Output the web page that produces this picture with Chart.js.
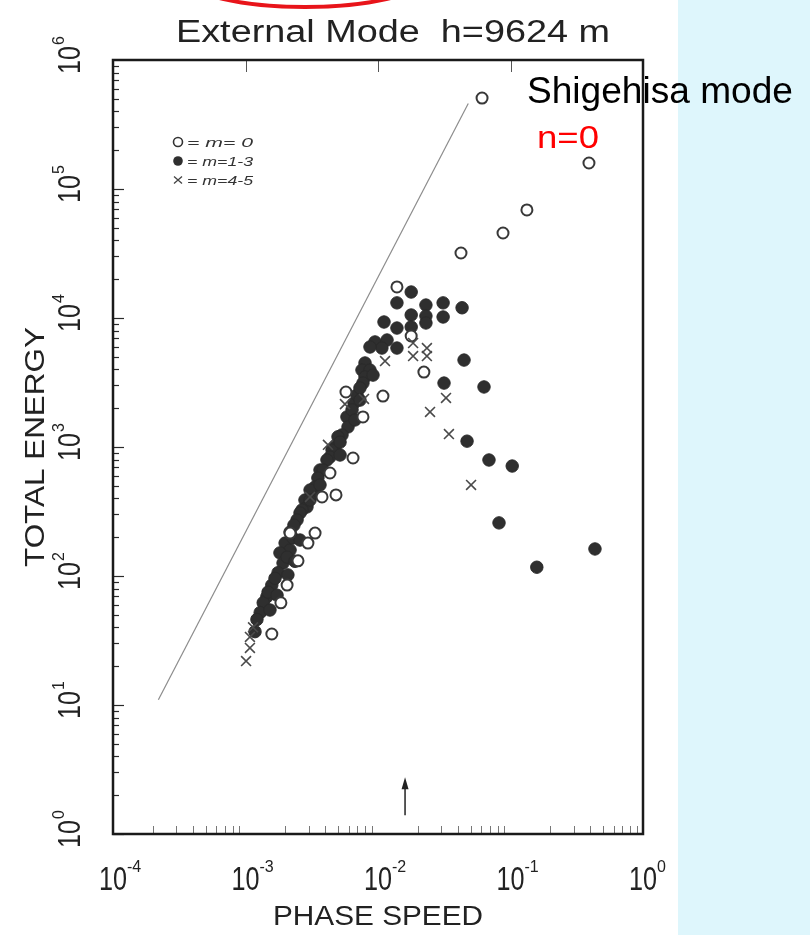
<!DOCTYPE html>
<html>
<head>
<meta charset="utf-8">
<script src="https://cdn.jsdelivr.net/npm/chart.js@4.4.1/dist/chart.umd.min.js"></script>
<style>
  html, body { margin: 0; padding: 0; background: #fff; }
  #wrap { position: relative; width: 810px; height: 935px; overflow: hidden; background: #fff; }
  #panel { position: absolute; left: 678px; top: 0; width: 132px; height: 935px; background: #def6fc; }
  #chart { position: absolute; left: 0; top: 0; }
</style>
</head>
<body>
<div id="wrap">
  <div id="panel"></div>
  <canvas id="chart" width="810" height="935"></canvas>
</div>
<script>
// m = 0 (open circles)
const m0Speed  = [0.061, 0.391, 0.133, 0.0878, 0.0423, 0.0139, 0.0178, 0.0222, 0.0109, 0.00573, 0.0077,
                  0.00648, 0.00434, 0.00482, 0.00378, 0.00217, 0.00335, 0.00296, 0.00249, 0.00206, 0.00185, 0.00158];
const m0Energy = [5.07e5, 1.59e5, 6.88e4, 4.56e4, 3.19e4, 1.74e4, 7250, 3810, 2480, 2670, 1710,
                  822, 629, 425, 410, 215, 215, 180, 131, 85, 62, 35.5];

// m = 1-3 (filled circles)
const m13Speed  = [0.0178, 0.0139, 0.0230, 0.0310, 0.0431, 0.0178, 0.0230, 0.0310, 0.0230, 0.0111,
                   0.0139, 0.0178, 0.00949, 0.0117, 0.0139, 0.0107, 0.0087, 0.0446, 0.00798, 0.00757,
                   0.0087, 0.00798, 0.00917, 0.0077, 0.0315, 0.0631, 0.00659, 0.00694, 0.00583, 0.00594,
                   0.00535, 0.00499, 0.00474, 0.0045, 0.00434, 0.00412, 0.00365, 0.00385, 0.00352, 0.00335,
                   0.00335, 0.00281, 0.00291, 0.00267, 0.00258, 0.00245, 0.00217, 0.00232, 0.00199, 0.00217,
                   0.00182, 0.00192, 0.00176, 0.00158, 0.00145, 0.00136, 0.00129, 0.00122, 0.00118, 0.047,
                   0.0688, 0.103, 0.0819, 0.434, 0.158, 0.00167, 0.00206, 0.00637, 0.00731, 0.00517,
                   0.00307, 0.00228, 0.00148, 0.00236, 0.00258, 0.00209, 0.00173, 0.00153, 0.00307,
                   0.00365, 0.00517, 0.0067, 0.00731];
const m13Energy = [1.59e4, 1.31e4, 1.26e4, 1.31e4, 1.2e4, 1.055e4, 1.036e4, 1.018e4, 9150, 9310,
                   8360, 8520, 6520, 6750, 5850, 5850, 5960, 4720, 4480, 3950,
                   3950, 3490, 3610, 3130, 3130, 2920, 2190, 2530, 1710, 1430,
                   1240, 1200, 1000, 948, 836, 793, 663, 663, 575, 490,
                   440, 388, 343, 325, 308, 272, 219, 248, 180, 159,
                   151, 126, 106, 85, 69, 62, 52, 46, 37, 1110,
                   793, 712, 258, 162, 117, 96, 140, 1940, 2870, 1090,
                   464, 197, 75, 130, 190, 102, 71, 54.5, 388,
                   508, 867, 1620, 2310];

// m = 4-5 (crosses)
const m45Speed  = [0.0184, 0.0234, 0.0234, 0.0184, 0.0113, 0.0326, 0.0247, 0.0343, 0.0504, 0.00784,
                   0.00563, 0.00419, 0.00307, 0.00114, 0.00108, 0.00108, 0.00101];
const m45Energy = [6400, 5850, 5070, 5070, 4640, 2400, 1870, 1260, 508, 2360,
                   2150, 1040, 410, 40, 33.7, 27.7, 21.9];

// E ~ c^2 guide line
const lineSpeed  = [2.2e-4, 0.048];
const lineEnergy = [11, 4.6e5];

// arrow marking c = 0.016
const arrowSpeed  = 0.016;
const arrowEnergy = [1.4, 2.75];

const xExps = [-4, -3, -2, -1, 0];
const yExps = [0, 1, 2, 3, 4, 5, 6];

const legendRows = ['= m= 0', '= m=1-3', '= m=4-5'];

function toPoints(xs, ys) {
  return xs.map((v, i) => ({ x: v, y: ys[i] }));
}

const FONT = '"Liberation Sans", Arial, sans-serif';

// draws text squeezed/stretched to a given width
function fitText(ctx, text, x, y, size, width, align, style) {
  ctx.font = (style ? style + ' ' : '') + size + 'px ' + FONT;
  const w = ctx.measureText(text).width;
  const sx = width ? width / w : 1;
  ctx.save();
  ctx.translate(x, y);
  ctx.scale(sx, 1);
  ctx.textAlign = align || 'center';
  ctx.textBaseline = 'alphabetic';
  ctx.fillText(text, 0, 0);
  ctx.restore();
}

const paper = {
  id: 'paper',
  afterDraw(chart) {
    const { ctx, chartArea: a, scales: { x, y } } = chart;
    ctx.save();

    // inward ticks on the left axis
    ctx.strokeStyle = '#2a2a2a';
    ctx.lineWidth = 1.2;
    for (let d = 0; d < 6; d++) {
      for (let k = 1; k <= 9; k++) {
        const py = Math.round(y.getPixelForValue(k * Math.pow(10, d))) + 0.5;
        const len = k === 1 ? 11 : 6;
        ctx.beginPath();
        ctx.moveTo(a.left, py);
        ctx.lineTo(a.left + len, py);
        ctx.stroke();
      }
    }

    // faint minor ticks along the bottom
    ctx.strokeStyle = '#777';
    ctx.lineWidth = 1;
    for (let d = -4; d < 0; d++) {
      for (let k = 2; k <= 9; k++) {
        const px = Math.round(x.getPixelForValue(k * Math.pow(10, d))) + 0.5;
        ctx.beginPath();
        ctx.moveTo(px, a.bottom);
        ctx.lineTo(px, a.bottom - 8);
        ctx.stroke();
      }
    }

    // decade ticks hanging from the top
    ctx.strokeStyle = '#555';
    [-3, -2, -1].forEach(e => {
      const px = Math.round(x.getPixelForValue(Math.pow(10, e))) + 0.5;
      ctx.beginPath();
      ctx.moveTo(px, a.top);
      ctx.lineTo(px, a.top + 12);
      ctx.stroke();
    });

    // frame
    ctx.strokeStyle = '#1a1a1a';
    ctx.lineWidth = 2.5;
    ctx.strokeRect(a.left, a.top, a.right - a.left, a.bottom - a.top);

    // arrow
    const ax = x.getPixelForValue(arrowSpeed);
    const ay0 = y.getPixelForValue(arrowEnergy[0]);
    const ay1 = y.getPixelForValue(arrowEnergy[1]);
    ctx.strokeStyle = '#222';
    ctx.fillStyle = '#222';
    ctx.lineWidth = 1.5;
    ctx.beginPath();
    ctx.moveTo(ax, ay0);
    ctx.lineTo(ax, ay1 + 8);
    ctx.stroke();
    ctx.beginPath();
    ctx.moveTo(ax, ay1);
    ctx.lineTo(ax - 3.5, ay1 + 12);
    ctx.lineTo(ax + 3.5, ay1 + 12);
    ctx.closePath();
    ctx.fill();

    // x tick labels
    ctx.fillStyle = '#222';
    xExps.forEach(e => {
      const px = x.getPixelForValue(Math.pow(10, e));
      fitText(ctx, '10', px, 890, 34, 28, 'center');
      fitText(ctx, String(e), px + 14, 872, 16, null, 'left');
    });

    // y tick labels, rotated
    yExps.forEach(e => {
      const py = y.getPixelForValue(Math.pow(10, e));
      ctx.save();
      ctx.translate(80, py);
      ctx.rotate(-Math.PI / 2);
      fitText(ctx, '10', 0, 0, 32, 28, 'center');
      fitText(ctx, String(e), 15, -16, 16, null, 'left');
      ctx.restore();
    });

    // axis titles
    fitText(ctx, 'PHASE SPEED', 378, 925, 28, 210, 'center');
    ctx.save();
    ctx.translate(44, 447);
    ctx.rotate(-Math.PI / 2);
    fitText(ctx, 'TOTAL ENERGY', 0, 0, 28, 240, 'center');
    ctx.restore();

    // title
    fitText(ctx, 'External Mode  h=9624 m', 393, 42, 31, 434, 'center');

    // legend
    const lx = 178;
    const rows = [142, 161, 180];
    ctx.lineWidth = 1.6;
    ctx.strokeStyle = '#333';
    ctx.beginPath();
    ctx.arc(lx, rows[0], 4.5, 0, Math.PI * 2);
    ctx.stroke();
    ctx.fillStyle = '#2f2f2f';
    ctx.beginPath();
    ctx.arc(lx, rows[1], 4.8, 0, Math.PI * 2);
    ctx.fill();
    ctx.strokeStyle = '#444';
    ctx.lineWidth = 1.3;
    ctx.beginPath();
    ctx.moveTo(lx - 4, rows[2] - 3.5); ctx.lineTo(lx + 4, rows[2] + 3.5);
    ctx.moveTo(lx + 4, rows[2] - 3.5); ctx.lineTo(lx - 4, rows[2] + 3.5);
    ctx.stroke();
    ctx.fillStyle = '#333';
    legendRows.forEach((t, i) => {
      fitText(ctx, t, lx + 9, rows[i] + 5, 13, 66, 'left', 'italic');
    });

    // annotations
    ctx.fillStyle = '#000';
    fitText(ctx, 'Shigehisa mode', 527, 103, 36, 266, 'left');
    ctx.fillStyle = '#f00';
    fitText(ctx, 'n=0', 537, 148, 32, 62, 'left');

    // red loop at the top edge
    ctx.strokeStyle = '#e8141a';
    ctx.lineWidth = 4;
    ctx.beginPath();
    ctx.ellipse(305, -20, 115, 27, 0, 0, Math.PI * 2);
    ctx.stroke();

    ctx.restore();
  }
};

new Chart(document.getElementById('chart'), {
  type: 'scatter',
  data: {
    datasets: [
      {
        label: 'm=4-5',
        data: toPoints(m45Speed, m45Energy),
        pointStyle: 'crossRot',
        pointRadius: 7,
        borderColor: '#4a4a4a',
        backgroundColor: 'transparent',
        borderWidth: 1.6,
        order: 0
      },
      {
        label: 'm=0',
        data: toPoints(m0Speed, m0Energy),
        pointStyle: 'circle',
        pointRadius: 5.5,
        borderColor: '#383838',
        backgroundColor: '#fff',
        borderWidth: 2,
        order: 1
      },
      {
        label: 'm=1-3',
        data: toPoints(m13Speed, m13Energy),
        pointStyle: 'circle',
        pointRadius: 6.2,
        borderColor: '#2a2a2a',
        backgroundColor: '#2f2f2f',
        borderWidth: 1,
        order: 2
      },
      {
        type: 'line',
        label: 'slope 2',
        data: toPoints(lineSpeed, lineEnergy),
        borderColor: '#8c8c8c',
        borderWidth: 1.2,
        pointRadius: 0,
        showLine: true,
        order: 3
      }
    ]
  },
  options: {
    responsive: false,
    animation: false,
    devicePixelRatio: 1,
    events: [],
    layout: { padding: { left: 113, top: 60, right: 167, bottom: 101 } },
    plugins: { legend: { display: false }, tooltip: { enabled: false } },
    scales: {
      x: { type: 'logarithmic', min: 1e-4, max: 1, display: false },
      y: { type: 'logarithmic', min: 1, max: 1e6, display: false }
    }
  },
  plugins: [paper]
});
</script>
</body>
</html>
